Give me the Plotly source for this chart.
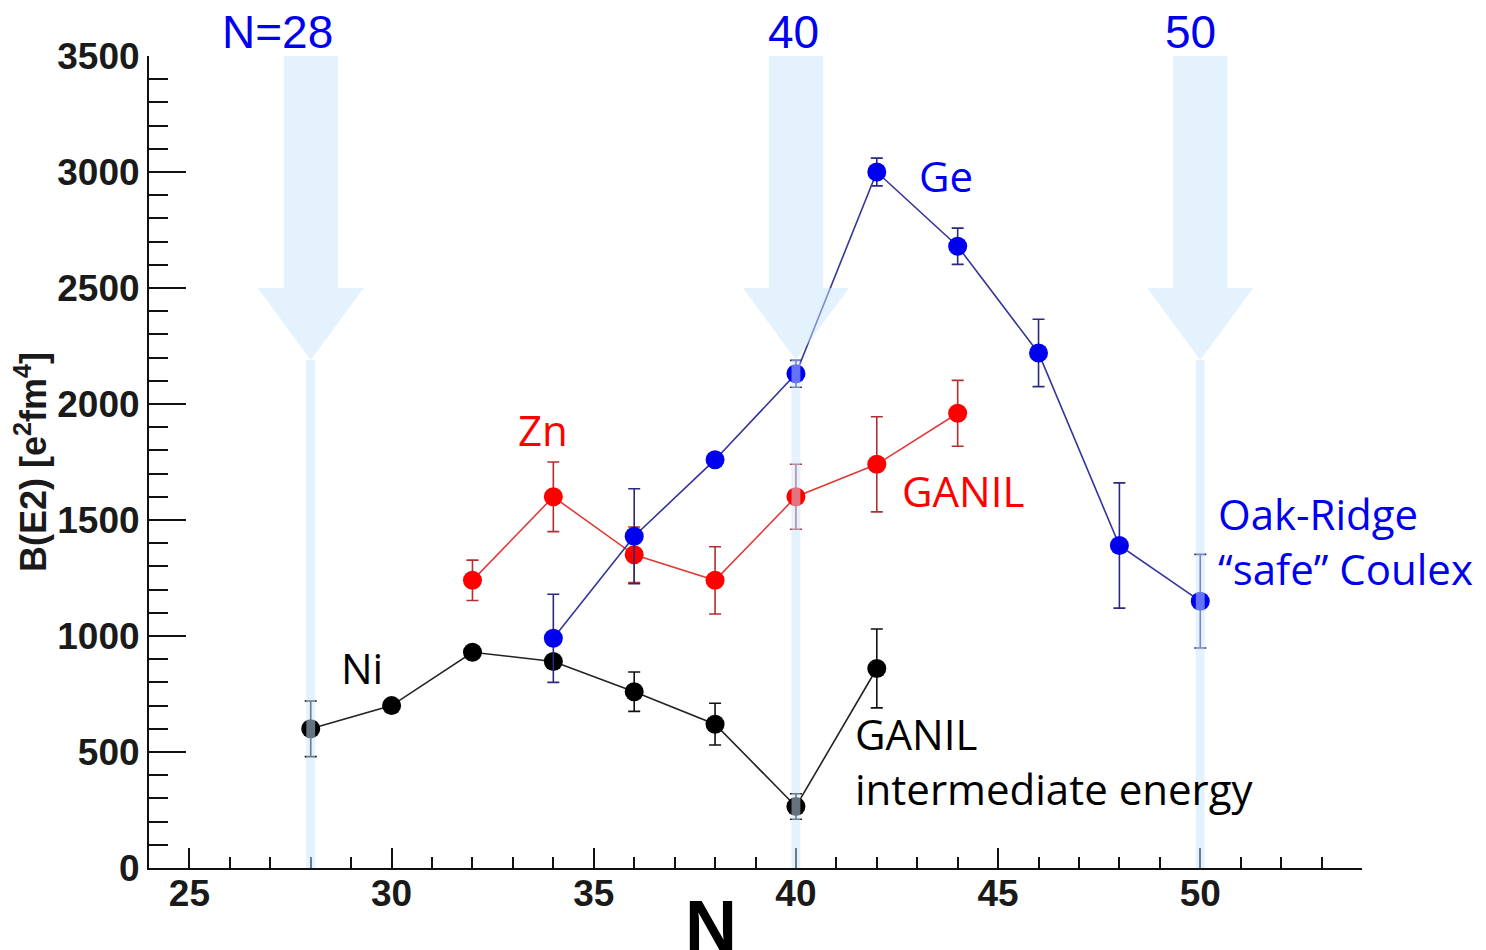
import plotly.graph_objects as go

# ---- data ----
ni_n = [28, 30, 32, 34, 36, 38, 40, 42]
ni_b = [600, 700, 930, 890, 760, 620, 265, 860]
ni_err = [120, 0, 0, 0, 85, 90, 55, 170]

zn_n = [32, 34, 36, 38, 40, 42, 44]
zn_b = [1240, 1600, 1350, 1240, 1600, 1740, 1960]
zn_err = [87, 150, 120, 145, 140, 205, 142]

ge_n = [34, 36, 38, 40, 42, 44, 46, 48, 50]
ge_b = [990, 1430, 1760, 2130, 3000, 2680, 2220, 1390, 1150]
ge_err = [190, 205, 0, 58, 60, 78, 145, 270, 202]

magic_n = [28, 40, 50]
magic_labels = ["N=28", "40", "50"]
magic_label_x = [27.17, 39.94, 49.77]

x_ticks = [25, 30, 35, 40, 45, 50]
y_ticks = [0, 500, 1000, 1500, 2000, 2500, 3000, 3500]

COMIC = "Comic Sans MS, Open Sans, sans-serif"
ARIAL = "Liberation Sans, Arial, sans-serif"

fig = go.Figure()


def series(n, b, err, mcol, lcol, ecol):
    fig.add_trace(go.Scatter(
        x=n, y=b, mode="lines+markers",
        line=dict(color=lcol, width=1.6),
        marker=dict(color=mcol, size=19),
        error_y=dict(type="data", array=err, visible=True,
                     color=ecol, thickness=1.6, width=6),
        showlegend=False, cliponaxis=False,
    ))


series(ni_n, ni_b, ni_err, "#000000", "#222222", "#111111")
series(zn_n, zn_b, zn_err, "#ff0000", "#e23a3a", "#b03030")
series(ge_n, ge_b, ge_err, "#0000f0", "#34349a", "#2a2a80")

# ---- shell-closure arrows (light blue, semi-transparent) ----
arrow_fill = "rgba(200,230,252,0.5)"
shaft_hw, head_hw = 0.67, 1.31
top, base, tip = 3500, 2500, 2190
band_hw = 0.11
for m in magic_n:
    path = (f"M {m-shaft_hw},{top} L {m+shaft_hw},{top} L {m+shaft_hw},{base} "
            f"L {m+head_hw},{base} L {m},{tip} L {m-head_hw},{base} "
            f"L {m-shaft_hw},{base} Z")
    fig.add_shape(type="path", path=path, xref="x", yref="y",
                  fillcolor=arrow_fill, line=dict(width=0), layer="above")
    fig.add_shape(type="rect", x0=m-band_hw, x1=m+band_hw, y0=0, y1=tip,
                  xref="x", yref="y", fillcolor=arrow_fill,
                  line=dict(width=0), layer="above")

for lx, lab in zip(magic_label_x, magic_labels):
    fig.add_annotation(x=lx, y=1.03, xref="x", yref="paper", text=lab,
                       showarrow=False, font=dict(family=ARIAL, size=46, color="#0000f0"),
                       xanchor="center", yanchor="middle")

# ---- text labels ----
labels = [
    ("Ge", 43.70, 2987, "#0000f0", "center"),
    ("Zn", 33.75, 1888, "#ff0000", "center"),
    ("GANIL", 44.12, 1629, "#ff0000", "center"),
    ("Oak-Ridge<br>\u201csafe\u201d Coulex", 50.39, 1410, "#0000f0", "left"),
    ("Ni", 29.27, 866, "#000000", "center"),
    ("GANIL<br>intermediate energy", 41.40, 462, "#000000", "left"),
]
for txt, x, y, col, anc in labels:
    fig.add_annotation(x=x, y=y, xref="x", yref="y", text=txt, showarrow=False,
                       font=dict(family=COMIC, size=42, color=col),
                       xanchor=anc, yanchor="middle", align="left")

# x-axis title "N"
fig.add_annotation(x=37.9, y=0, xref="x", yref="paper", text="<b>N</b>",
                   showarrow=False, font=dict(family=ARIAL, size=72, color="#000000"),
                   xanchor="center", yanchor="top", yshift=-16)

fig.update_layout(
    width=1486, height=950,
    margin=dict(l=149, r=124, t=56, b=82),
    paper_bgcolor="white", plot_bgcolor="white",
    font=dict(family=ARIAL),
)
fig.update_xaxes(
    range=[24, 54], tickvals=x_ticks, ticks="inside", ticklen=20, tickwidth=2,
    tickcolor="#111", showline=True, linecolor="#111", linewidth=2,
    showgrid=False, zeroline=False,
    tickfont=dict(family=ARIAL, size=37, color="#1a1a1a", weight="bold"),
    ticklabelstandoff=-8,
    minor=dict(ticks="inside", ticklen=11, tickwidth=2, dtick=1, tickcolor="#111", showgrid=False),
)
fig.update_yaxes(
    range=[0, 3500], tickvals=y_ticks, ticks="inside", ticklen=37, tickwidth=2,
    tickcolor="#111", showline=True, linecolor="#111", linewidth=2,
    showgrid=False, zeroline=False,
    tickfont=dict(family=ARIAL, size=37, color="#1a1a1a", weight="bold"),
    minor=dict(ticks="inside", ticklen=19, tickwidth=2, dtick=100, tickcolor="#111", showgrid=False),
    title=dict(text="<b>B(E2) [e<sup>2</sup>fm<sup>4</sup>]</b>",
               font=dict(family=ARIAL, size=36, color="#1a1a1a"), standoff=0),
)

fig.write_html("out.html")
